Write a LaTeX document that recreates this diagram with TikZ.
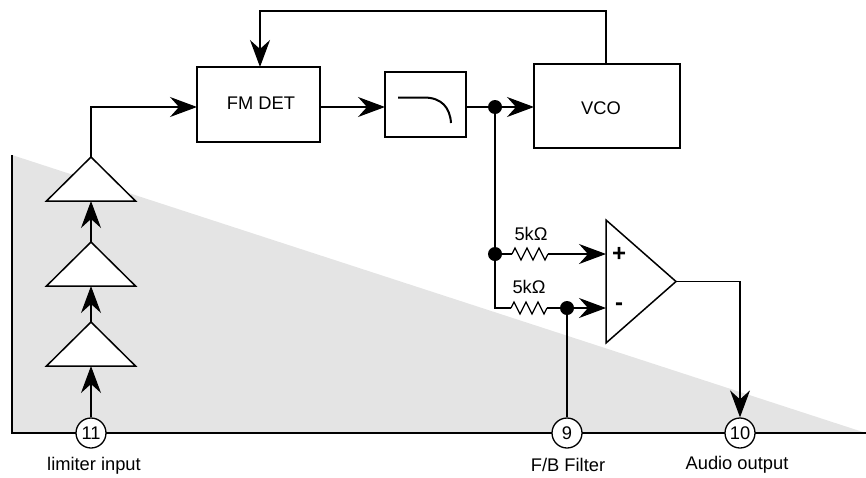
\documentclass[tikz,border=0pt]{standalone}
\usepackage{fontspec}
\setmainfont{Liberation Sans}
\usetikzlibrary{arrows.meta,positioning,calc,shapes.geometric,decorations.pathmorphing}
\definecolor{ShadeGray}{HTML}{E4E4E4}
\tikzset{
  block/.style={draw, line width=1.5pt, fill=white, inner sep=0pt, outer sep=0pt,
    align=center, font=\fontsize{18.3}{20}\selectfont},
  stage/.style={draw, line width=1.5pt, fill=white, isosceles triangle, isosceles triangle stretches,
    shape border rotate=90, minimum width=89pt, minimum height=44pt, inner sep=0pt, outer sep=0pt},
  opamp/.style={draw, line width=1.5pt, fill=white, isosceles triangle, isosceles triangle stretches,
    minimum width=123pt, minimum height=70pt, inner sep=0pt, outer sep=0pt},
  pin/.style={draw, circle, line width=1.3pt, fill=white, minimum size=30pt, inner sep=0pt,
    font=\fontsize{18.3}{20}\selectfont},
  junction/.style={circle, fill=black, minimum size=14pt, inner sep=0pt},
  caption/.style={font=\fontsize{18.3}{20}\selectfont, inner sep=0pt},
  sign/.style={font=\bfseries\fontsize{24}{24}\selectfont, inner sep=0pt},
  line/.style={line width=1.2pt},
  wire/.style={line, -{Stealth[length=27pt, width=20pt, inset=9pt]}},
  resistor/.style={line, decorate, decoration={zigzag, amplitude=6pt, segment length=12pt}}
}

\begin{document}
\begin{tikzpicture}[x=1pt, y=-1pt]
  \useasboundingbox (0,0) rectangle (866,477);
  % shaded wedge and outline
  \coordinate (wedgetop) at (12,155);
  \coordinate (wedgecorner) at (12,433);
  \coordinate (wedgeend) at (866,433);
  \fill[ShadeGray] (wedgetop) -- (wedgeend) -- (wedgecorner) -- cycle;
  \draw[line] (wedgetop) -- (wedgecorner) -- (wedgeend);
  % limiter chain
  \node[pin] (pinlimit) at (91,433) {11};
  \node[stage, anchor=apex] (limitc) at (91,322) {};
  \node[stage, anchor=apex] (limitb) at (91,242) {};
  \node[stage, anchor=apex] (limita) at (91,157) {};
  % upper row
  \node[block, minimum width=123pt, minimum height=75pt] (fmdet) at (258.5,104.5) {};
  \node[caption] (fmdettext) at (261,103) {FM DET};
  \node[block, minimum width=81pt, minimum height=65pt, right=65pt of fmdet] (filter) {};
  \node[block, minimum width=146pt, minimum height=84pt, right=68pt of filter, yshift=-1.5pt] (vco) {};
  \node[caption] (vcotext) at (601,108) {VCO};
  \coordinate (rail) at (0,107);
  \node[junction] (split) at (495,107) {};
  % audio path
  \node[opamp, anchor=lower side] (amp) at (606,281.5) {};
  \node[sign] (plus) at (619,254) {+};
  \node[sign] (minus) at (619,307) {-};
  \node[junction] (tap) at (495,254) {};
  \node[junction] (fbdot) at (567,308) {};
  \node[pin] (pinfb) at (567,433) {9};
  \node[pin] (pinout) at (740,433) {10};
  \coordinate (bend) at (495,308);
  \coordinate (resaa) at (512,254);
  \coordinate (resab) at (548,254);
  \coordinate (resba) at (511,308);
  \coordinate (resbb) at (547,308);
  \node[caption] (rlabela) at (531,234) {5kΩ};
  \node[caption] (rlabelb) at (529,287) {5kΩ};
  % pin captions
  \node[caption] (limitcap) at (94,466) {limiter input};
  \node[caption] (fbcap) at (568,465) {F/B Filter};
  \node[caption] (outcap) at (737,465) {Audio output};
  % connectors
  \draw[wire] (pinlimit) -- (limitc.lower side);
  \draw[wire] (limitc.apex) -- (limitb.lower side);
  \draw[wire] (limitb.apex) -- (limita.lower side);
  \draw[wire] (limita.apex) |- (fmdet.west |- rail);
  \draw[wire] (fmdet.east |- rail) -- (filter.west |- rail);
  \draw[line] (filter.east |- rail) -- (split);
  \draw[wire] (split) -- (vco.west |- rail);
  \draw[wire] (606,0 |- vco.north) -- (606,11) -- (260,11) -- (260,0 |- fmdet.north);
  \draw[line] (split) -- (tap) -- (bend) -- (resba);
  \draw[line] (tap) -- (resaa);
  \draw[resistor] (resaa) -- (resab);
  \draw[wire] (resab) -- (amp.lower side |- tap);
  \draw[resistor] (resba) -- (resbb);
  \draw[line] (resbb) -- (fbdot);
  \draw[wire] (fbdot) -- (amp.lower side |- fbdot);
  \draw[line] (fbdot) -- (pinfb);
  \draw[wire] (amp.apex) -| (pinout);
  % filter response curve
  \draw[line width=2pt] ($(filter.center)+(-27.5,-7)$) -- ++(26,0)
    .. controls ($(filter.center)+(16,-7)$) and ($(filter.center)+(24.5,3)$) .. ($(filter.center)+(25.5,18.5)$);
\end{tikzpicture}
\end{document}
